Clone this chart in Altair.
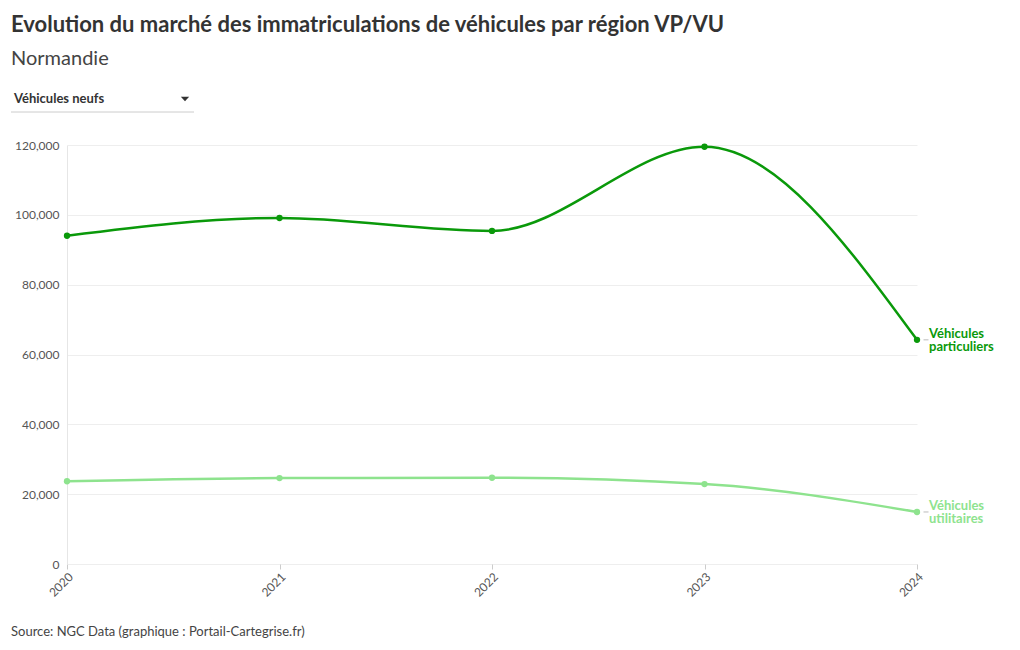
import altair as alt
import pandas as pd

years = [2020, 2021, 2022, 2023, 2024]
vp = [94000, 99100, 95400, 119500, 64200]
vu = [23700, 24600, 24700, 22900, 14900]
series_names = ["Véhicules particuliers", "Véhicules utilitaires"]
series_labels = [["Véhicules", "particuliers"], ["Véhicules", "utilitaires"]]
colors = ["#0a990a", "#8ee38e"]
y_ticks = [0, 20000, 40000, 60000, 80000, 100000, 120000]

rows = []
for name, vals in zip(series_names, [vp, vu]):
    for yr, v in zip(years, vals):
        rows.append({"annee": str(yr), "valeur": v, "serie": name})
df = pd.DataFrame(rows)

last = pd.DataFrame([
    {"annee": str(years[-1]), "valeur": vals[-1], "serie": n, "lab": lab}
    for n, vals, lab in zip(series_names, [vp, vu], series_labels)
])

FONT = "Lato"
W, H = 850, 419

x = alt.X("annee:O", scale=alt.Scale(type="point", padding=0),
          axis=alt.Axis(title=None, labelAngle=-45, labelFontSize=12, labelColor="#555",
                        labelFont=FONT, tickColor="#ccc", tickSize=5, domain=False,
                        grid=False, labelPadding=2))
y = alt.Y("valeur:Q", scale=alt.Scale(domain=[0, 120000], nice=False),
          axis=alt.Axis(title=None, values=y_ticks, format=",.0f", labelFontSize=12,
                        labelColor="#555", labelFont=FONT, ticks=False, domain=True,
                        domainColor="#e6e6e6", gridColor="#eeeeee", labelPadding=8))
color = alt.Color("serie:N", scale=alt.Scale(domain=series_names, range=colors), legend=None)

lines = alt.Chart(df).mark_line(interpolate="monotone", strokeWidth=2.5).encode(x=x, y=y, color=color)
points = alt.Chart(df).mark_circle(size=40, opacity=1).encode(x=x, y=y, color=color)
dash = alt.Chart(last).mark_tick(orient="horizontal", size=5, thickness=1, color="#bbb",
                                 opacity=1, xOffset=9).encode(x=x, y=y)
labels = alt.Chart(last).mark_text(align="left", baseline="middle", dx=12, dy=-6, font=FONT,
                                   fontSize=13, fontWeight="bold", lineHeight=13).encode(
    x=x, y=y, text="lab", color=color)

deco = pd.DataFrame({"t": ["Véhicules neufs"]})
drop_text = alt.Chart(deco).mark_text(align="left", baseline="middle", font=FONT, fontSize=13,
                                      fontWeight="bold", color="#333").encode(
    x=alt.value(-53), y=alt.value(-46), text="t")
drop_tri = alt.Chart(deco).mark_point(shape="M-1,-0.55L1,-0.55L0,0.55Z", filled=True,
                                      color="#333", opacity=1, size=70).encode(
    x=alt.value(118), y=alt.value(-46))
drop_line = alt.Chart(deco).mark_rule(color="#ccc", strokeWidth=1).encode(
    x=alt.value(-56), x2=alt.value(127), y=alt.value(-33))
src = pd.DataFrame({"t": ["Source: NGC Data (graphique : Portail-Cartegrise.fr)"]})
footer = alt.Chart(src).mark_text(align="left", baseline="alphabetic", font=FONT, fontSize=13,
                                  color="#444").encode(x=alt.value(-56), y=alt.value(491), text="t")

chart = alt.layer(lines, points, dash, labels, drop_text, drop_tri, drop_line, footer).properties(
    width=W, height=H,
    padding={"left": 59, "top": 137, "right": 95, "bottom": 78},
    autosize=alt.AutoSizeParams(type="none"),
    title=alt.TitleParams(
        text="Evolution du marché des immatriculations de véhicules par région VP/VU",
        subtitle="Normandie", anchor="start", frame="group", dx=-56, offset=23,
        font=FONT, fontSize=22, fontWeight="bold", color="#333",
        subtitleFont=FONT, subtitleFontSize=20, subtitleColor="#444", subtitlePadding=12,
    ),
).configure_view(stroke=None).configure_axis(labelFont=FONT)

chart.save("out.html", embed_options={"renderer": "svg", "actions": False})
